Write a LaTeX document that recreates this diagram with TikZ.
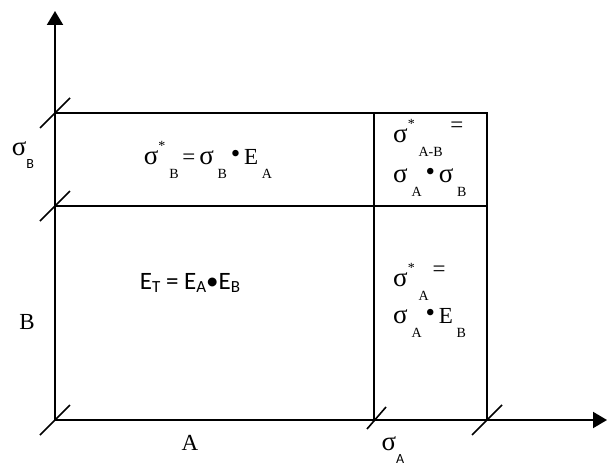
\documentclass[tikz,border=0pt]{standalone}
\usepackage{fontspec}
\setmainfont{Liberation Serif}
\newfontfamily\calib{Carlito}
\usetikzlibrary{arrows.meta}
\newcommand\sig{{\fontsize{27}{27}\selectfont σ}}
\newcommand\lsub[1]{\raisebox{-0.6em}{\fontsize{14}{14}\selectfont #1}}
\newcommand\hsup[1]{\raisebox{0.6em}{\fontsize{14}{14}\selectfont #1}}
\newcommand\csub[1]{\raisebox{-0.55em}{\calib\fontsize{14}{14}\selectfont #1}}
\newcommand\bul{\raisebox{0.1em}{\fontsize{27}{27}\selectfont •}}
\begin{document}
\begin{tikzpicture}[x=1pt,y=-1pt,
  ln/.style={line width=2pt},
  tk/.style={line width=1.6pt},
  lab/.style={font=\fontsize{23}{25}\selectfont, inner sep=0pt},
  arr/.style={line width=2pt,-{Triangle[length=14pt,width=16pt]}}]
\useasboundingbox (0,0) rectangle (607,468);
% coordinates
\coordinate (O) at (55,420);
\coordinate (Ytop) at (55,11);
\coordinate (Xend) at (607,420);
\coordinate (L1) at (55,113);
\coordinate (L2) at (55,206);
\coordinate (R1) at (487,113);
\coordinate (R2) at (487,206);
\coordinate (M1) at (374,113);
\coordinate (M2) at (374,206);
\coordinate (MB) at (374,420);
\coordinate (RB) at (487,420);
% axes
\draw[arr] (O) -- (Ytop);
\draw[arr] (O) -- (Xend);
% grid lines
\draw[ln] (L1) -- (R1) -- (RB);
\draw[ln] (L2) -- (R2);
\draw[ln] (M1) -- (MB);
% ticks
\foreach \p in {L1,L2,O,RB}
  \draw[tk] ([shift={(-15,15)}]\p) -- ([shift={(15,-15)}]\p);
\draw[tk] ([shift={(-7,9)}]MB) -- ([shift={(12,-13)}]MB);
% labels
\node[lab] (sB) at (23,155) {\sig\csub{B}};
\node[lab] (B) at (27,322) {B};
\node[lab] (A) at (190,443) {A};
\node[lab] (sA) at (393,450) {\sig\csub{A}};
\node[lab] (top) at (208,160) {\sig\hsup{*}\,\lsub{B}\,=\,\sig\,\lsub{B}\,\bul\,E\,\lsub{A}};
\node[lab] (ET) at (190,283) {\calib\fontsize{25}{27}\selectfont E\raisebox{-0.15em}{\fontsize{17}{17}\selectfont T} = E\raisebox{-0.15em}{\fontsize{17}{17}\selectfont A}•E\raisebox{-0.15em}{\fontsize{17}{17}\selectfont B}};
\node[lab,anchor=west] (ab1) at (393,138) {\sig\hsup{*}\,\lsub{A-B}\,\,\raisebox{0.45em}{=}};
\node[lab,anchor=west] (ab2) at (393,182) {\sig\,\lsub{A}\,\bul\,\sig\,\lsub{B}};
\node[lab,anchor=west] (a1) at (393,282) {\sig\hsup{*}\,\lsub{A}\,\raisebox{0.45em}{=}};
\node[lab,anchor=west] (a2) at (393,323) {\sig\,\lsub{A}\,\bul\,E\,\lsub{B}};
\end{tikzpicture}
\end{document}
